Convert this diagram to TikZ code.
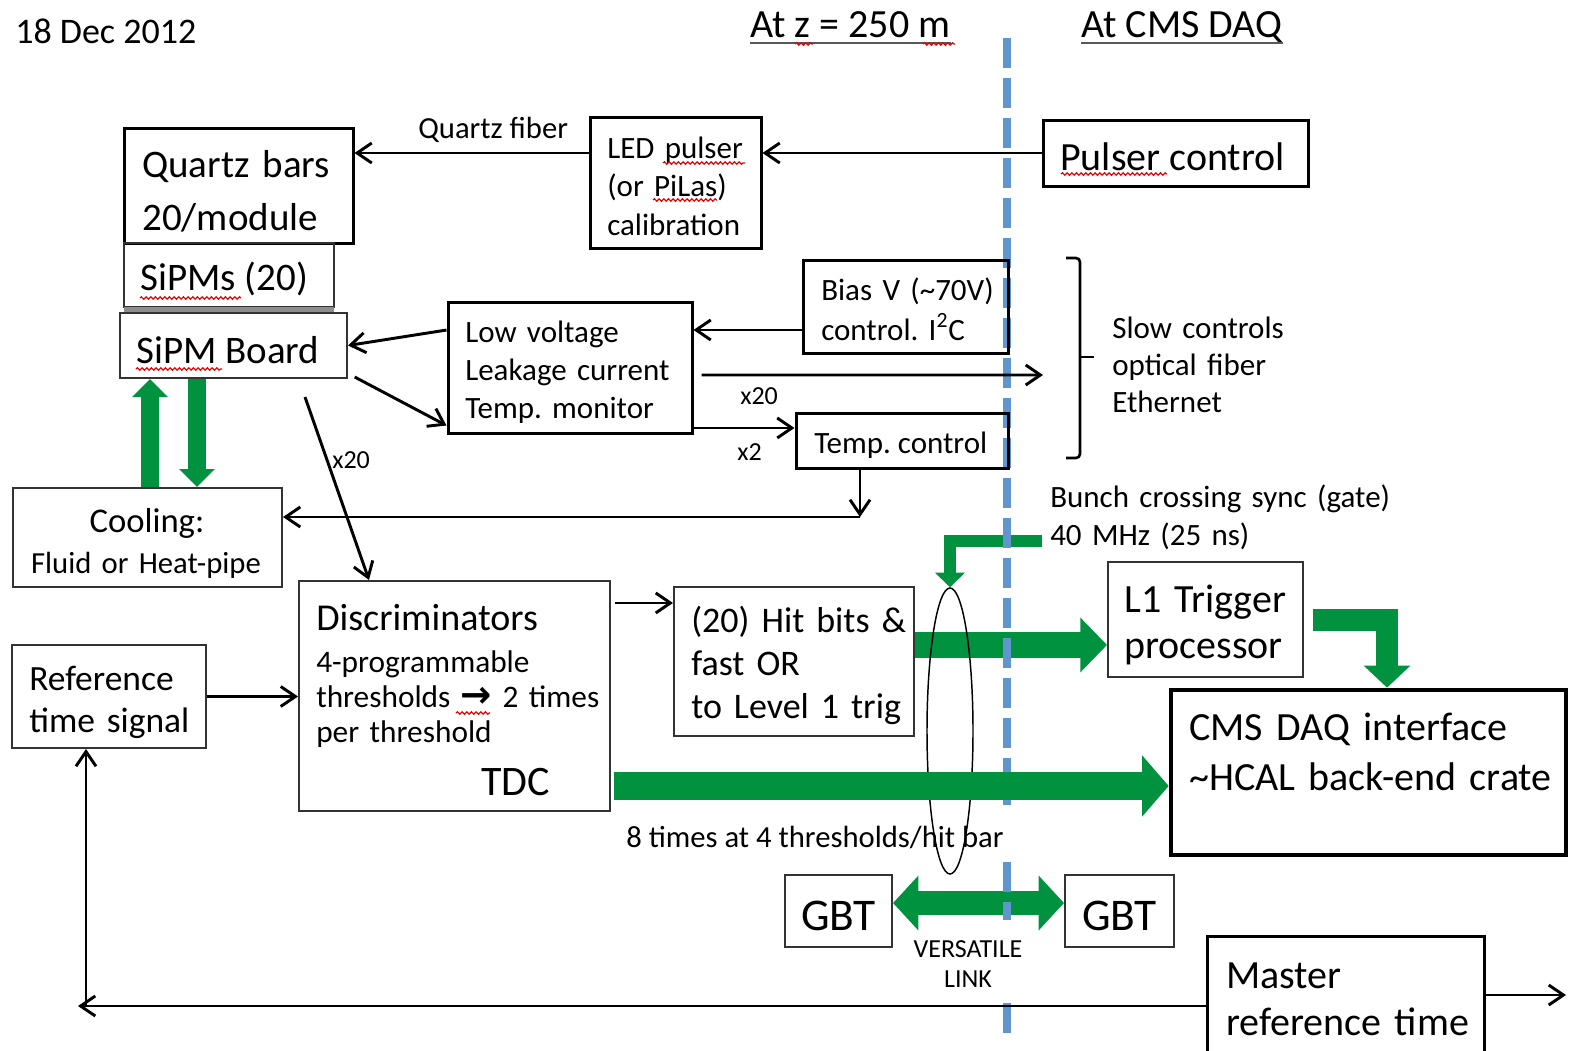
\documentclass[tikz,border=0pt]{standalone}
\usepackage{fontspec}
\setmainfont{Carlito}
\newfontfamily\arrowfont{DejaVu Sans}
\usetikzlibrary{arrows.meta,shapes.geometric,decorations.pathmorphing,backgrounds}
\definecolor{linkgreen}{RGB}{0,146,63}
\definecolor{dividerblue}{RGB}{96,150,205}
\newcommand\fz[2]{\fontsize{#1}{#2}\selectfont}
\frenchspacing
\tikzset{
  thickbox/.style={draw, line width=2.25pt, inner sep=0pt},
  thinbox/.style={draw=black!80, line width=1.5pt, inner sep=0pt},
  sz/.style 2 args={minimum width=#1*0.75pt, minimum height=#2*0.75pt},
  txt/.style={inner sep=0pt, anchor=base west},
  mtxt/.style={txt, text width=12cm, align=left},
  ctxt/.style={inner sep=0pt, anchor=base, text width=8cm, align=center},
  arr/.style={line width=2.2pt, -{Straight Barb[length=11pt,width=15pt]}},
  garrow/.style n args={3}{draw=linkgreen, line width=#1, -{Triangle[length=#2,width=#3]}},
  gboth/.style n args={3}{draw=linkgreen, line width=#1, {Triangle[length=#2,width=#3]}-{Triangle[length=#2,width=#3]}},
  spell/.style={draw=red!90!black, line width=0.9pt, decorate, decoration={snake, amplitude=0.9pt, segment length=3.5pt}},
  uline/.style={draw=black!65, line width=1.5pt},
  divider/.style={draw=dividerblue, line width=6pt, dash pattern=on 22.5pt off 7.5pt}
}
\begin{document}
\begin{tikzpicture}[x=0.75pt,y=0.75pt,yscale=-1,xscale=1]
\useasboundingbox (0,0) rectangle (1571,1050);

% boxes
\node[thickbox, sz={229}{115}] (quartz) at (238.5,185.5) {};
\node[thinbox, sz={210}{64}] (sipms) at (229,275) {};
\fill[black!45] (124,307) rectangle (334,313);
\node[thinbox, sz={227}{65}] (board) at (233.5,345.5) {};
\node[thickbox, sz={171}{131}] (led) at (675.5,182.5) {};
\node[thickbox, sz={265}{66}] (pulser) at (1175.5,153) {};
\node[thickbox, sz={205}{93}] (bias) at (905.5,306.5) {};
\node[thickbox, sz={244}{131}] (lowv) at (570,367.5) {};
\node[thickbox, sz={212}{55}] (tempc) at (902,440.5) {};
\node[thinbox, sz={269}{99}] (cool) at (147.5,537.5) {};
\node[thinbox, sz={194}{103}] (refsig) at (109,696.5) {};
\node[thinbox, sz={311}{230}] (disc) at (454.5,696) {};
\node[thinbox, sz={240}{149}] (hits) at (794,661.5) {};
\node[thinbox, sz={195}{115}] (lone) at (1205.5,619.5) {};
\node[draw, line width=3.5pt, inner sep=0pt, sz={395}{165}] (daq) at (1368.5,772.5) {};
\node[thinbox, sz={107}{72}] (gbtl) at (838.5,911) {};
\node[thinbox, sz={109}{72}] (gbtr) at (1119.5,911) {};
\node[thickbox, sz={277}{140}] (master) at (1345.5,1006) {};

% texts
\node[txt, font={\fz{27}{32}}] (date) at (15,43) {18 Dec 2012};
\node[txt, font={\fz{30}{36}}] (atz) at (750,37) {At z = 250 m};
\node[txt, font={\fz{30}{36}}] (atdaq) at (1081,37) {At CMS DAQ};
\node[mtxt, font={\fz{29.25}{39.75}}] (quartzt) at (142,177) {Quartz bars\\20/module};
\node[txt, font={\fz{29.25}{35}}] (sipmst) at (140,290) {SiPMs (20)};
\node[txt, font={\fz{29.25}{35}}] (boardt) at (136,363) {SiPM Board};
\node[txt, font={\fz{23}{28}}] (fibert) at (418,138) {Quartz fiber};
\node[mtxt, font={\fz{23.25}{29}}] (ledt) at (607,158) {LED pulser\\(or PiLas)\\calibration};
\node[txt, font={\fz{30}{36}}] (pulsert) at (1060,170) {Pulser control};
\node[mtxt, font={\fz{23.25}{30}}] (biast) at (821,300) {Bias V (\textasciitilde70V)\\control. I\textsuperscript{2}C};
\node[mtxt, font={\fz{23.25}{28.5}}] (lowvt) at (465,342) {Low voltage\\Leakage current\\Temp. monitor};
\node[txt, font={\fz{23.25}{28}}] (tempct) at (814,453) {Temp. control};
\node[txt, font={\fz{19.5}{23}}] (xa) at (740,404) {x20};
\node[txt, font={\fz{19.5}{23}}] (xb) at (737,460) {x2};
\node[txt, font={\fz{19.5}{23}}] (xc) at (332,468) {x20};
\node[mtxt, font={\fz{23.25}{28}}] (slowt) at (1112,338) {Slow controls\\optical fiber\\Ethernet};
\node[mtxt, font={\fz{23.25}{28.5}}] (buncht) at (1050,507) {Bunch crossing sync (gate)\\40 MHz (25 ns)};
\node[ctxt, font={\fz{26}{31}}] (coolta) at (147,532) {Cooling:};
\node[ctxt, font={\fz{23}{28}}] (cooltb) at (146,573) {Fluid or Heat-pipe};
\node[mtxt, font={\fz{26.6}{32}}] (refsigt) at (29,690) {Reference\\time signal};
\node[txt, font={\fz{28.5}{34}}] (disct) at (316,630) {Discriminators};
\node[mtxt, font={\fz{23.5}{26.6}}] (discsub) at (316,672) {4-programmable\\thresholds {\arrowfont\bfseries\fontsize{28}{26.6}\selectfont →} 2 times\\per threshold};
\node[txt, font={\fz{31.5}{38}}] (tdct) at (481,795) {TDC};
\node[mtxt, font={\fz{27}{32.25}}] (hitst) at (691,632) {(20) Hit bits \&\\fast OR\\to Level 1 trig};
\node[mtxt, font={\fz{30}{34.5}}] (lonet) at (1124,612) {L1 Trigger\\processor};
\node[mtxt, font={\fz{30}{37.5}}] (daqt) at (1189,740) {CMS DAQ interface\\\textasciitilde HCAL back-end crate};
\node[txt, font={\fz{23}{28}}] (timest) at (626,847) {8 times at 4 thresholds/hit bar};
\node[ctxt, font={\fz{34}{40}}] (gbtlt) at (838.5,930) {GBT};
\node[ctxt, font={\fz{34}{40}}] (gbtrt) at (1119.5,930) {GBT};
\node[ctxt, font={\fz{19.5}{22.5}}] (linkt) at (968,957) {VERSATILE\\LINK};
\node[mtxt, font={\fz{30}{35.25}}] (mastert) at (1226,988) {Master\\reference time};

% underlines and spell marks
\draw[uline] ([yshift=4.5pt]atz.base west) -- ([yshift=4.5pt]atz.base east);
\draw[uline] ([yshift=4.5pt]atdaq.base west) -- ([yshift=4.5pt]atdaq.base east);
\draw[spell] (795,44) -- (813,44);
\draw[spell] (923,44) -- (955,44);
\draw[spell] (663,163) -- (745,163);
\draw[spell] (653,200) -- (717,200);
\draw[spell] (1061,174) -- (1167,174);
\draw[spell] (140,298) -- (241,298);
\draw[spell] (136,369) -- (222,369);
\draw[spell] (456,713) -- (490,713);

% black connectors
\draw[arr] (pulser.west) -- (pulser.west -| led.east);
\draw[arr] (pulser.west -| led.west) -- (pulser.west -| quartz.east);
\coordinate (biasout) at ([yshift=17.6pt]bias.west);
\draw[arr] (biasout) -- (biasout -| lowv.east);
\draw[arr] ([yshift=-28.1pt]lowv.west) -- (board.east);
\draw[arr] ([xshift=5pt,yshift=-1.5pt]board.south east) -- ([yshift=-6.75pt]lowv.south west);
\coordinate (slowin) at (1043,375);
\draw[arr] ([xshift=6pt,yshift=5.6pt]lowv.east) -- (slowin);
\coordinate (tcin) at ([yshift=-9.4pt]tempc.west);
\draw[arr] (tcin -| lowv.east) -- (tcin);
\coordinate (tcturn) at (860,517);
\draw[arr] (tcturn |- tempc.south) -- (tcturn);
\draw[arr] (tcturn) -- (tcturn -| cool.east);
\draw[arr] ([xshift=-32.25pt,yshift=13.5pt]board.south east) -- ([xshift=53.25pt]disc.north west);
\draw[arr] (refsig.east) -- (refsig.east -| disc.west);
\coordinate (hitsin) at ([yshift=-43.9pt]hits.west);
\draw[arr, shorten <=3pt] (hitsin -| disc.east) -- (hitsin);
\coordinate (rc) at (86,1006);
\draw[arr] (master.west) -- ([xshift=-6pt]rc);
\draw[arr] (rc) -- (rc |- refsig.south);
\coordinate (mout) at (1566,995);
\draw[arr] (mout -| master.east) -- (mout);

% slow controls bracket
\draw[line width=2pt, rounded corners=3pt] (1066,258) -- (1080,258) -- (1080,458) -- (1066,458);
\draw[line width=2pt] (1080,357) -- (1094,357);

% green links
\coordinate (cup) at ([xshift=1.9pt]cool.north);
\coordinate (cdn) at ([xshift=37.1pt]cool.north);
\draw[garrow={13.5pt}{13.5pt}{26pt}] (cup) -- (cup |- board.south);
\draw[garrow={13.5pt}{13.5pt}{26pt}] (cdn |- board.south) -- (cdn);
\node[draw, line width=1.1pt, ellipse, inner sep=0pt, sz={46}{286}] (bundle) at (950,731) {};
\begin{scope}[on background layer]
\coordinate (hl) at ([yshift=-12.4pt]hits.east);
\draw[garrow={19.5pt}{20pt}{40pt}] (hl) -- (hl -| lone.west);
\draw[gboth={18pt}{19pt}{40pt}] ([yshift=-6pt]gbtl.east) -- ([yshift=-6pt]gbtr.west);
\coordinate (bxs) at (1042,541);
\draw[garrow={9pt}{11pt}{22pt}] (bxs) -| (bundle.north);
% divider, hidden behind the bottom texts
\draw[divider] (1007,38) -- (1007,805);
\draw[divider] (1007,862) -- (1007,920);
\draw[divider] (1007,1003) -- (1007,1033);
\end{scope}
\coordinate (daqin) at ([yshift=10.1pt]daq.west);
\draw[garrow={21pt}{20pt}{45pt}, shorten <=2pt] (daqin -| disc.east) -- (daqin);
\draw[garrow={16.5pt}{16.5pt}{34pt}] ([xshift=6.75pt]lone.east) -| ([xshift=13.9pt]daq.north);
\end{tikzpicture}
\end{document}
